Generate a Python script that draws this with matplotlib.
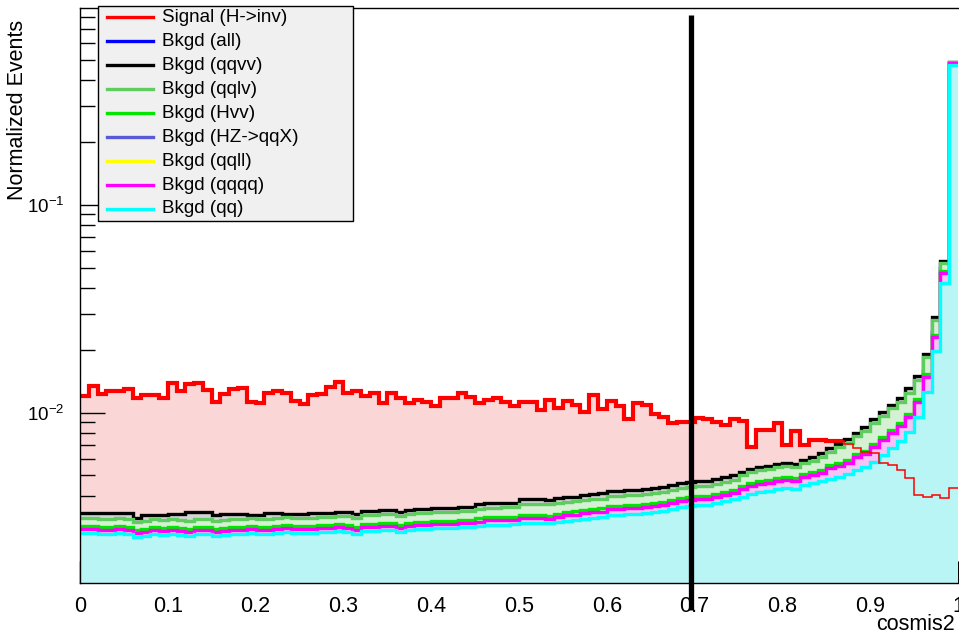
import numpy as np
import matplotlib
matplotlib.use("Agg")
import matplotlib.pyplot as plt
from matplotlib.lines import Line2D
from matplotlib.patches import Rectangle
from matplotlib.ticker import MultipleLocator, FixedLocator, NullFormatter

plt.rcParams['font.family'] = ['Liberation Sans', 'DejaVu Sans']
plt.rcParams['mathtext.fontset'] = 'custom'
plt.rcParams['mathtext.rm'] = 'Liberation Sans'
plt.rcParams['mathtext.it'] = 'Liberation Sans:italic'
plt.rcParams['mathtext.bf'] = 'Liberation Sans:bold'

# cosmis2 histograms: 100 bins on [0, 1], bin contents in units of 1e-4
x_min, x_max, n_bins = 0.0, 1.0, 100
unit = 1e-4
cut_value = 0.696

signal = [120.7, 134.9, 123.0, 127.6, 127.6, 130.0, 118.5, 122.0, 122.0, 118.5,
          139.0, 127.6, 137.4, 139.0, 129.0, 113.3, 123.0, 130.0, 132.3, 113.3,
          112.1, 124.4, 127.6, 124.4, 114.2, 110.7, 122.0, 123.4, 132.9, 141.4,
          125.2, 127.6, 121.1, 125.2, 111.3, 124.4, 118.5, 112.1, 115.5, 113.3,
          108.1, 117.7, 117.7, 124.4, 119.0, 111.3, 115.5, 117.7, 113.3, 108.1,
          112.5, 113.3, 103.4, 115.5, 105.3, 114.2, 109.3, 101.4, 122.0, 104.2,
          114.2, 108.1, 93.6, 111.3, 109.3, 98.6, 96.0, 89.2, 90.2, 90.8,
          94.3, 93.3, 90.8, 87.6, 93.3, 91.0, 68.9, 82.9, 82.9, 89.2,
          70.2, 82.2, 70.2, 74.2, 74.2, 73.6, 73.6, 71.0, 67.6, 65.1,
          64.0, 57.7, 56.2, 53.2, 48.5, 40.4, 39.6, 40.4, 38.9, 43.5]

bkgd_all = [29.5, 29.5, 29.1, 29.1, 29.5, 29.1, 28.1, 28.5, 29.1, 28.8,
            29.1, 28.8, 28.5, 29.1, 29.1, 28.5, 28.8, 29.1, 29.1, 29.5,
            29.1, 29.1, 29.5, 29.9, 29.5, 29.5, 29.5, 29.9, 29.9, 30.2,
            29.9, 29.1, 30.2, 30.2, 30.5, 30.5, 29.9, 30.5, 30.8, 30.8,
            31.2, 31.2, 31.2, 31.5, 31.5, 32.1, 32.4, 32.4, 32.5, 32.7,
            33.3, 33.4, 33.3, 33.0, 33.5, 34.4, 34.6, 35.0, 35.5, 35.7,
            36.8, 36.8, 37.2, 37.2, 37.7, 38.0, 38.4, 39.3, 40.2, 40.6,
            41.1, 41.1, 42.0, 43.1, 44.0, 45.9, 47.5, 48.5, 49.1, 50.2,
            50.7, 50.2, 52.4, 53.7, 54.8, 58.0, 59.3, 61.2, 65.4, 67.7,
            73.0, 78.9, 85.4, 92.3, 102, 121, 159, 245, 496, 4830]

qqvv = [33.0, 33.0, 33.0, 33.0, 33.0, 33.0, 31.3, 32.1, 32.3, 32.3,
        32.7, 32.7, 33.2, 33.2, 33.2, 32.3, 32.7, 32.7, 32.7, 32.1,
        32.1, 33.0, 33.0, 32.7, 32.7, 32.7, 32.9, 33.1, 33.1, 33.4,
        33.4, 32.7, 33.8, 33.8, 34.2, 34.2, 33.4, 34.2, 34.6, 34.6,
        34.9, 34.9, 34.9, 35.3, 35.3, 36.3, 36.7, 36.7, 36.8, 37.0,
        38.6, 38.7, 38.6, 38.3, 38.9, 39.4, 39.6, 40.2, 40.7, 41.0,
        42.1, 42.1, 42.6, 42.6, 43.2, 43.6, 44.1, 45.1, 46.0, 46.6,
        47.1, 47.1, 48.1, 49.3, 50.3, 52.1, 53.8, 55.0, 55.7, 56.8,
        57.5, 56.8, 59.5, 61.5, 64.0, 67.5, 71.0, 74.5, 80.0, 85.5,
        93.5, 101, 109, 118, 131, 151, 192, 290, 538, 4870]

qqlv = [31.3, 31.3, 30.9, 30.9, 31.3, 30.9, 29.9, 30.2, 30.9, 30.6,
        30.9, 30.6, 30.2, 30.9, 30.9, 30.2, 30.6, 30.9, 30.9, 31.3,
        30.9, 30.9, 31.3, 31.7, 31.3, 31.3, 31.3, 31.7, 31.7, 32.0,
        32.0, 31.3, 32.4, 32.4, 32.7, 32.7, 32.0, 32.7, 33.1, 33.1,
        33.4, 33.4, 33.4, 33.8, 33.8, 34.6, 35.0, 35.0, 35.1, 35.2,
        36.5, 36.6, 36.5, 36.3, 36.8, 37.3, 37.5, 38.0, 38.5, 38.7,
        39.9, 39.9, 40.4, 40.4, 40.8, 41.2, 41.7, 42.7, 43.6, 44.1,
        44.5, 44.5, 45.5, 46.6, 47.6, 50.4, 52.0, 53.2, 53.8, 55.0,
        55.6, 55.0, 57.5, 58.8, 61.5, 65.0, 68.5, 72.0, 77.0, 82.0,
        89.5, 96.7, 105, 113, 125, 144, 186, 280, 527, 4843]

hvv = [28.6, 28.6, 28.3, 28.3, 28.6, 28.3, 27.3, 27.7, 28.3, 28.0,
       28.3, 28.0, 27.7, 28.3, 28.3, 27.7, 28.0, 28.3, 28.3, 28.6,
       28.3, 28.3, 28.6, 29.0, 28.6, 28.6, 28.6, 29.0, 29.0, 29.3,
       29.0, 28.3, 29.3, 29.3, 29.6, 29.6, 29.0, 29.6, 29.9, 29.9,
       30.3, 30.3, 30.3, 30.6, 30.6, 31.2, 31.5, 31.5, 31.6, 31.7,
       32.3, 32.4, 32.3, 32.0, 32.5, 33.4, 33.6, 34.0, 34.5, 34.7,
       35.7, 35.7, 36.1, 36.1, 36.6, 36.9, 37.3, 38.2, 39.0, 39.4,
       39.9, 39.9, 40.8, 41.8, 42.7, 44.6, 46.1, 47.1, 47.7, 48.7,
       49.2, 48.7, 50.9, 52.1, 53.2, 56.3, 57.6, 59.4, 63.5, 65.7,
       70.9, 76.6, 82.9, 89.6, 99.0, 117, 154, 238, 482, 4817]

hz_qqx = [27.1, 27.1, 26.9, 26.9, 27.1, 26.9, 25.9, 26.3, 26.9, 26.6,
          26.9, 26.6, 26.3, 26.9, 26.9, 26.3, 26.6, 26.9, 26.9, 27.1,
          26.9, 26.9, 27.1, 27.4, 27.1, 27.1, 27.1, 27.4, 27.4, 27.7,
          27.4, 26.9, 27.7, 27.7, 28.0, 28.0, 27.4, 28.0, 28.3, 28.3,
          28.7, 28.7, 28.7, 29.0, 29.0, 29.4, 29.8, 29.8, 29.9, 30.0,
          30.6, 30.7, 30.6, 30.4, 30.8, 31.6, 31.7, 32.2, 32.6, 32.8,
          33.8, 33.8, 34.3, 34.3, 34.7, 35.0, 35.4, 36.3, 36.9, 37.4,
          37.8, 37.8, 38.6, 39.6, 40.5, 42.3, 43.7, 44.7, 45.2, 46.2,
          46.6, 46.2, 48.3, 49.4, 50.5, 53.3, 54.6, 56.4, 60.2, 62.2,
          67.2, 72.6, 78.6, 85.0, 93.8, 111, 146, 227, 462, 4700]

qqll = [26.9, 26.9, 26.6, 26.6, 26.9, 26.6, 25.6, 26.0, 26.6, 26.3,
        26.6, 26.3, 26.0, 26.6, 26.6, 26.0, 26.3, 26.6, 26.6, 26.9,
        26.6, 26.6, 26.9, 27.2, 26.9, 26.9, 26.9, 27.2, 27.2, 27.5,
        27.2, 26.6, 27.5, 27.5, 27.7, 27.7, 27.2, 27.7, 28.0, 28.0,
        28.4, 28.4, 28.4, 28.7, 28.7, 29.1, 29.5, 29.5, 29.6, 29.7,
        30.3, 30.4, 30.3, 30.1, 30.5, 31.3, 31.4, 31.9, 32.3, 32.5,
        33.5, 33.5, 34.0, 34.0, 34.3, 34.6, 35.0, 35.9, 36.6, 37.1,
        37.4, 37.4, 38.2, 39.2, 40.1, 41.9, 43.3, 44.2, 44.7, 45.7,
        46.2, 45.7, 47.8, 48.9, 50.0, 52.8, 54.0, 55.8, 59.6, 61.6,
        66.5, 71.9, 77.8, 84.1, 92.8, 110, 145, 225, 457, 4650]

qqqq = [27.7, 27.7, 27.4, 27.4, 27.7, 27.4, 26.4, 26.8, 27.4, 27.1,
        27.4, 27.1, 26.8, 27.4, 27.4, 26.8, 27.1, 27.4, 27.4, 27.7,
        27.4, 27.4, 27.7, 28.0, 27.7, 27.7, 27.7, 28.0, 28.0, 28.3,
        28.0, 27.4, 28.3, 28.3, 28.6, 28.6, 28.0, 28.6, 28.9, 28.9,
        29.3, 29.3, 29.3, 29.6, 29.6, 30.0, 30.4, 30.4, 30.5, 30.6,
        31.2, 31.3, 31.2, 31.0, 31.4, 32.2, 32.4, 32.9, 33.3, 33.5,
        34.5, 34.5, 35.0, 35.0, 35.4, 35.7, 36.1, 37.0, 37.7, 38.2,
        38.6, 38.6, 39.4, 40.4, 41.3, 43.2, 44.6, 45.6, 46.1, 47.1,
        47.6, 47.1, 49.3, 50.4, 51.5, 54.4, 55.7, 57.5, 61.4, 63.5,
        68.6, 74.1, 80.2, 86.7, 95.7, 113, 149, 232, 471, 4790]

qq = [26.5, 26.5, 26.2, 26.2, 26.5, 26.2, 25.3, 25.6, 26.2, 25.9,
      26.2, 25.9, 25.6, 26.2, 26.2, 25.6, 25.9, 26.2, 26.2, 26.5,
      26.2, 26.2, 26.5, 26.8, 26.5, 26.5, 26.5, 26.8, 26.8, 27.1,
      26.8, 26.2, 27.1, 27.1, 27.4, 27.4, 26.8, 27.4, 27.7, 27.7,
      28.0, 28.0, 28.0, 28.3, 28.3, 28.6, 28.9, 28.9, 29.0, 29.1,
      29.6, 29.7, 29.6, 29.4, 29.8, 30.2, 30.4, 30.8, 31.2, 31.4,
      32.3, 32.3, 32.7, 32.7, 33.1, 33.4, 33.8, 34.6, 35.3, 35.7,
      36.1, 36.1, 36.9, 37.8, 38.6, 39.5, 40.8, 41.7, 42.2, 43.1,
      43.6, 43.1, 45.1, 46.1, 47.1, 48.2, 49.3, 50.9, 53.2, 55.0,
      58.1, 62.8, 67.9, 73.4, 81.1, 95.7, 126, 199, 422, 4711]

# drawing order = legend order; each entry: label, contents, line colour, fill colour
backgrounds = [
    ("Bkgd (all)", bkgd_all, "#0000ff", "#c8c8f4"),
    ("Bkgd (qqvv)", qqvv, "#000000", "#d4d4d4"),
    ("Bkgd (qqlv)", qqlv, "#5fcc5f", "#d6f0d3"),
    ("Bkgd (Hvv)", hvv, "#00e600", "#bdf5bd"),
    ("Bkgd (HZ->qqX)", hz_qqx, "#5a5ad8", "#d0d0f2"),
    ("Bkgd (qqll)", qqll, "#ffff00", "#fafac0"),
    ("Bkgd (qqqq)", qqqq, "#ff00ff", "#f6c2f6"),
    ("Bkgd (qq)", qq, "#00ffff", "#baf5f5"),
]

edges = np.linspace(x_min, x_max, n_bins + 1)
floor = 1e-6

W, H = 959, 637
fig = plt.figure(figsize=(W / 100, H / 100), dpi=100)
ax = fig.add_axes([80 / W, 54 / H, 878 / W, 575 / H])
ax.set_yscale('log')

sig = np.array(signal) * unit
ax.stairs(sig, edges, baseline=floor, fill=True, color="#fbd6d6", lw=0, zorder=1)
ax.stairs(sig, edges, baseline=None, color="#ff0000", lw=3.0, zorder=2)

z = 3
for label, vals, col, fc in backgrounds:
    v = np.array(vals) * unit
    ax.stairs(v, edges, baseline=floor, fill=True, color=fc, lw=0, zorder=z)
    ax.stairs(v, edges, baseline=None, color=col, lw=2.4, zorder=z + 1)
    z += 2
# signal seen through the background fills
ax.stairs(sig, edges, baseline=None, color="#ff0000", lw=1.1, zorder=z)

ax.set_xlim(x_min, x_max)
ax.set_ylim(0.00152, 0.885)

# cut position
ax.plot([cut_value, cut_value], [0.00113, 0.82], color='black', lw=3.8,
        solid_capstyle='butt', clip_on=False, zorder=40)

ax.spines['right'].set_visible(False)
for s in ['left', 'bottom', 'top']:
    ax.spines[s].set_linewidth(1.0)
    ax.spines[s].set_zorder(50)

ax.xaxis.set_major_locator(MultipleLocator(0.1))
ax.xaxis.set_minor_locator(MultipleLocator(0.02))
ax.xaxis.set_major_formatter(plt.FuncFormatter(lambda v, p: f"{v:g}"))
ax.tick_params(axis='x', which='major', direction='in', length=16, width=1,
               labelsize=15.5, pad=9, top=False)
ax.tick_params(axis='x', which='minor', direction='in', length=8, width=1, top=False)

ax.yaxis.set_major_locator(FixedLocator([0.01, 0.1]))
ax.set_yticklabels([r'$10^{-2}$', r'$10^{-1}$'])
minor_y = [m * 10.0 ** e for e in (-3, -2, -1) for m in range(2, 10)]
ax.yaxis.set_minor_locator(FixedLocator(minor_y))
ax.yaxis.set_minor_formatter(NullFormatter())
ax.tick_params(axis='y', which='major', direction='in', length=18, width=1,
               labelsize=13.5, pad=11, right=False)
ax.tick_params(axis='y', which='minor', direction='in', length=11, width=1, right=False)

fig.text(18 / W, 1 - 20 / H, "Normalized Events", rotation=90, ha='center', va='top',
         fontsize=15.5)
fig.text(955 / W, 1 - 625 / H, "cosmis2", ha='right', va='center', fontsize=15.5)

# legend box
lx0, ly0, lx1, ly1 = 98, 6, 353, 221
fig.patches.append(Rectangle((lx0 / W, 1 - ly1 / H), (lx1 - lx0) / W, (ly1 - ly0) / H,
                             transform=fig.transFigure, facecolor="#f0f0f0",
                             edgecolor="black", lw=1.0, zorder=60))
entries = [("Signal (H->inv)", "#ff0000")] + [(b[0], b[2]) for b in backgrounds]
for i, (label, col) in enumerate(entries):
    yc = 1 - (17.3 + 23.96 * i) / H
    fig.lines.append(Line2D([107 / W, 153 / W], [yc, yc], color=col, lw=2.4,
                            transform=fig.transFigure, zorder=61))
    fig.text(162 / W, yc, label, ha='left', va='center', fontsize=13.6, zorder=62)

fig.savefig("out.png", dpi=100)
